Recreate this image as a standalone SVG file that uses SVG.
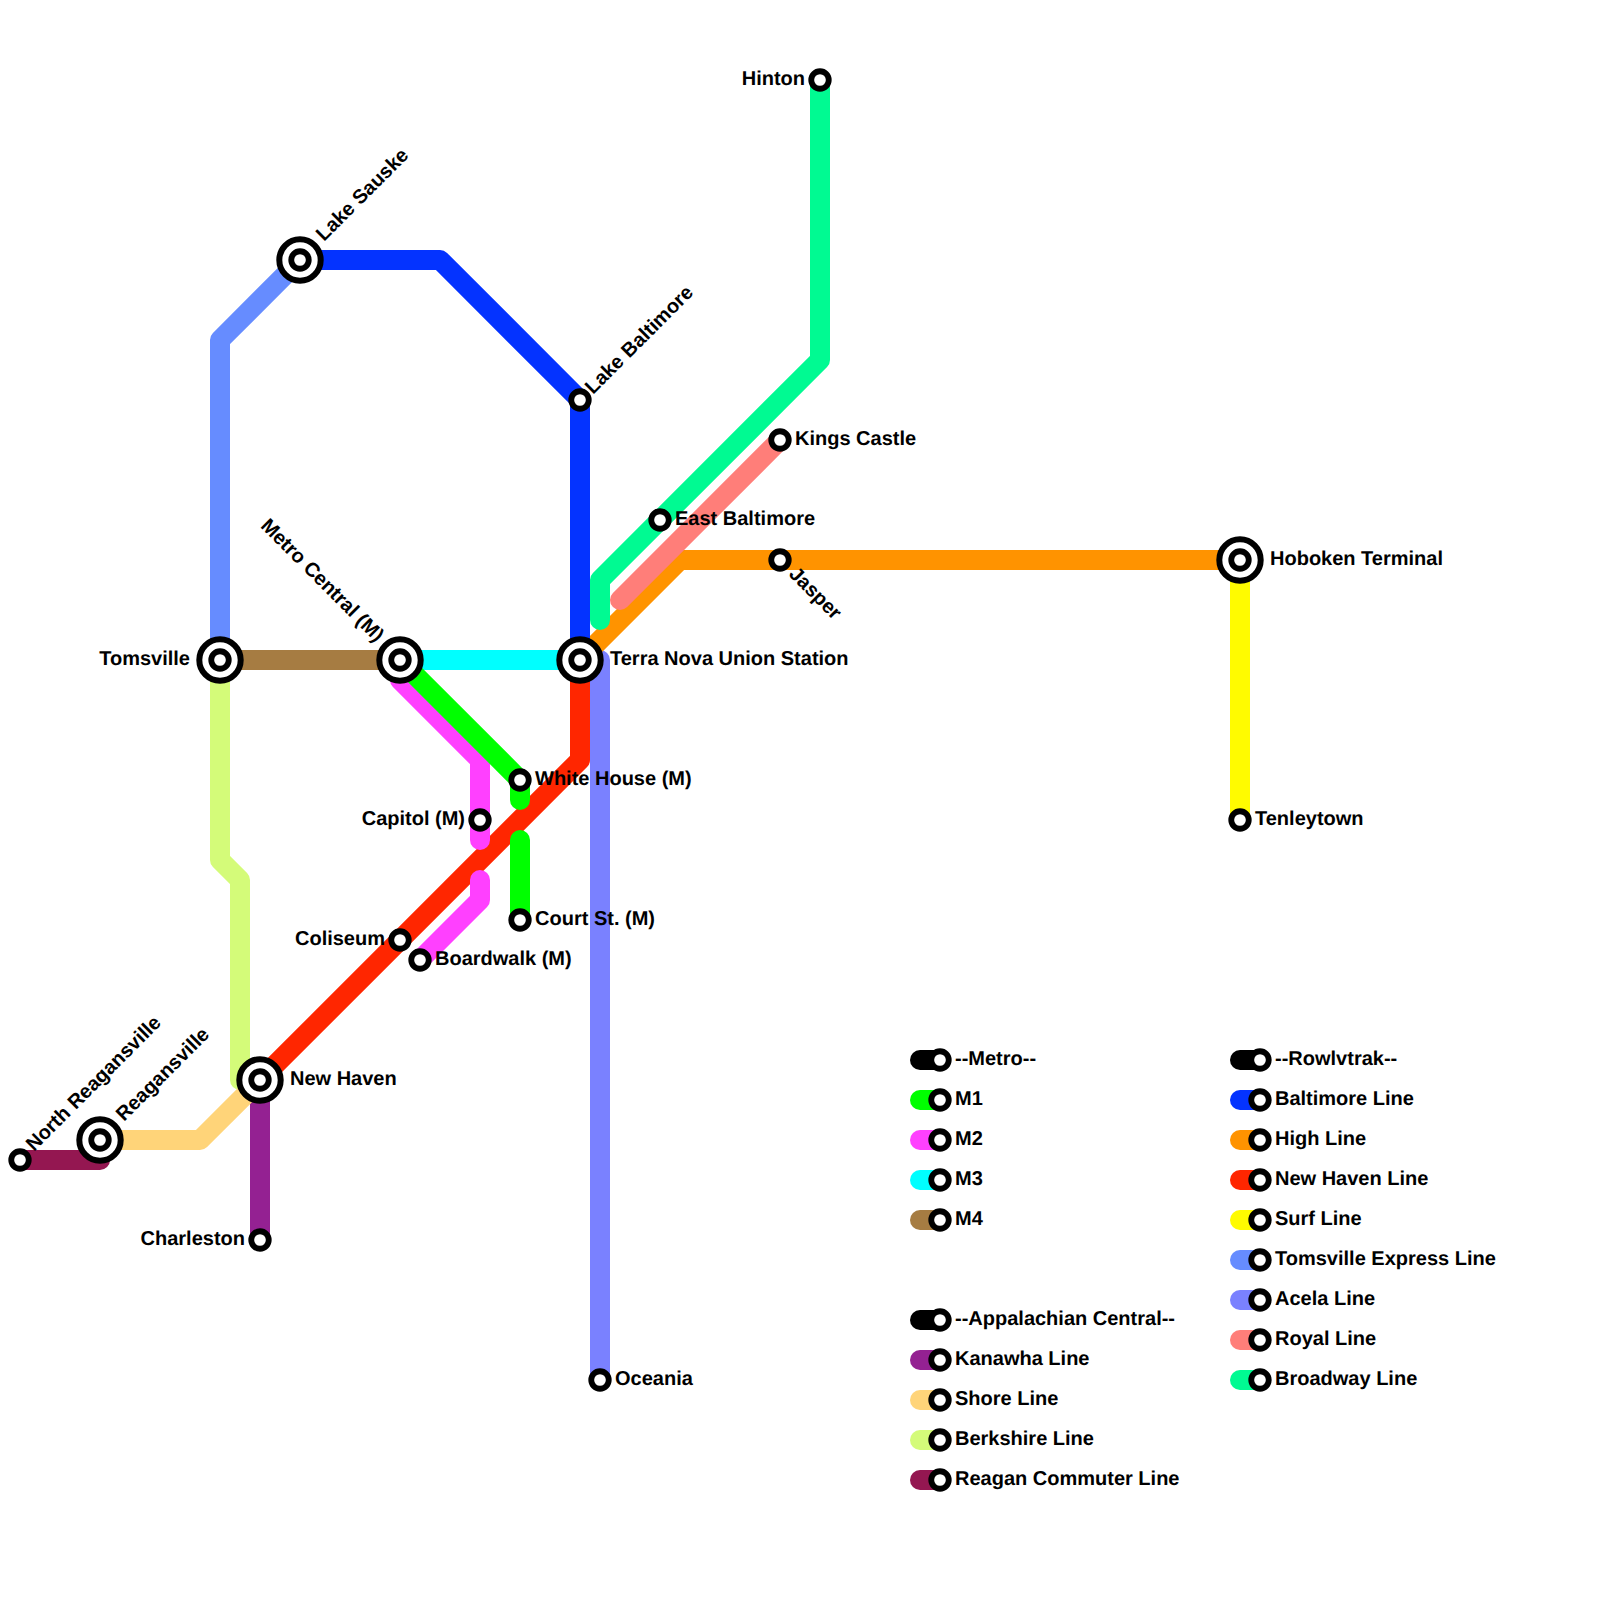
<svg xmlns="http://www.w3.org/2000/svg" width="1600" height="1600" viewBox="0 0 1600 1600">
<defs>
<style>
.l{fill:none;stroke-width:20;stroke-linecap:round;stroke-linejoin:round}
.s{fill:#fff;stroke:#000;stroke-width:5.83}
.o{fill:#fff;stroke:#000;stroke-width:6}
text{font-family:"Liberation Sans",Arial,sans-serif;font-weight:bold;font-size:20px;fill:#000;text-rendering:geometricPrecision}
.e{text-anchor:end}
</style>
<g id="st"><circle class="s" cx="0" cy="0" r="8.75"/></g>
<g id="ic"><circle class="o" cx="0" cy="0" r="20.7"/><circle class="s" cx="0" cy="0" r="8.75"/></g>
</defs>
<rect width="1600" height="1600" fill="#fff"/>
<g id="connectors">
<path class="l" stroke="#7A81FF" d="M600 1380V660H580"/>
<path class="l" stroke="#FF2600" d="M580 660V760L260 1080"/>
<path class="l" stroke="#FF9300" d="M580 660L680 560H1240"/>
<path class="l" stroke="#FF7E79" d="M620 600L780 440"/>
<path class="l" stroke="#00FA92" d="M820 80V360L600 580V620"/>
<path class="l" stroke="#0433FF" d="M300 260H440L580 400V660"/>
<path class="l" stroke="#668CFF" d="M300 260L220 340V660"/>
<path class="l" stroke="#FFFB00" d="M1240 560V820"/>
<path class="l" stroke="#D4FB79" d="M220 660V860L240 880V1080H260"/>
<path class="l" stroke="#942192" d="M260 1080V1240"/>
<path class="l" stroke="#FFD479" d="M100 1140H200L260 1080"/>
<path class="l" stroke="#941751" d="M20 1160H100V1140"/>
<path class="l" stroke="#A67C42" d="M220 660H400"/>
<path class="l" stroke="#00FFFF" d="M400 660H580"/>
<path class="l" stroke="#FF40FF" d="M400 660V680L480 760V840M480 880V900L420 960"/>
<path class="l" stroke="#00FF00" d="M400 660L520 780V800M520 840V920"/>
</g>
<g id="n-terra"><use href="#ic" x="580" y="660"/><text x="610" y="665">Terra Nova Union Station</text></g>
<g id="n-metro"><use href="#ic" x="400" y="660"/><text class="e" transform="translate(376 643) rotate(45)">Metro Central (M)</text></g>
<g id="n-toms"><use href="#ic" x="220" y="660"/><text class="e" x="190" y="665">Tomsville</text></g>
<g id="n-sauske"><use href="#ic" x="300" y="260"/><text transform="translate(324 242) rotate(-45)">Lake Sauske</text></g>
<g id="n-lakebalt"><use href="#st" x="580" y="400"/><text transform="translate(593 395) rotate(-45)">Lake Baltimore</text></g>
<g id="n-eastbalt"><use href="#st" x="660" y="520"/><text x="675" y="525">East Baltimore</text></g>
<g id="n-kings"><use href="#st" x="780" y="440"/><text x="795" y="445">Kings Castle</text></g>
<g id="n-jasper"><use href="#st" x="780" y="560"/><text transform="translate(788 575) rotate(45)">Jasper</text></g>
<g id="n-hoboken"><use href="#ic" x="1240" y="560"/><text x="1270" y="565">Hoboken Terminal</text></g>
<g id="n-tenley"><use href="#st" x="1240" y="820"/><text x="1255" y="825">Tenleytown</text></g>
<g id="n-hinton"><use href="#st" x="820" y="80"/><text class="e" x="805" y="85">Hinton</text></g>
<g id="n-oceania"><use href="#st" x="600" y="1380"/><text x="615" y="1385">Oceania</text></g>
<g id="n-white"><use href="#st" x="520" y="780"/><text x="535" y="785">White House (M)</text></g>
<g id="n-capitol"><use href="#st" x="480" y="820"/><text class="e" x="465" y="825">Capitol (M)</text></g>
<g id="n-court"><use href="#st" x="520" y="920"/><text x="535" y="925">Court St. (M)</text></g>
<g id="n-board"><use href="#st" x="420" y="960"/><text x="435" y="965">Boardwalk (M)</text></g>
<g id="n-coliseum"><use href="#st" x="400" y="940"/><text class="e" x="385" y="945">Coliseum</text></g>
<g id="n-newhaven"><use href="#ic" x="260" y="1080"/><text x="290" y="1085">New Haven</text></g>
<g id="n-charleston"><use href="#st" x="260" y="1240"/><text class="e" x="245" y="1245">Charleston</text></g>
<g id="n-reagan"><use href="#ic" x="100" y="1140"/><text transform="translate(124 1122) rotate(-45)">Reagansville</text></g>
<g id="n-north"><use href="#st" x="20" y="1160"/><text transform="translate(34 1152) rotate(-45)">North Reagansville</text></g>
<g id="legend">
<g id="lg1"><path class="l" stroke="#000" d="M920 1060H940"/><use href="#st" x="940" y="1060"/><text x="955" y="1065">--Metro--</text></g>
<g id="lg2"><path class="l" stroke="#00FF00" d="M920 1100H940"/><use href="#st" x="940" y="1100"/><text x="955" y="1105">M1</text></g>
<g id="lg3"><path class="l" stroke="#FF40FF" d="M920 1140H940"/><use href="#st" x="940" y="1140"/><text x="955" y="1145">M2</text></g>
<g id="lg4"><path class="l" stroke="#00FFFF" d="M920 1180H940"/><use href="#st" x="940" y="1180"/><text x="955" y="1185">M3</text></g>
<g id="lg5"><path class="l" stroke="#A67C42" d="M920 1220H940"/><use href="#st" x="940" y="1220"/><text x="955" y="1225">M4</text></g>
<g id="lg6"><path class="l" stroke="#000" d="M920 1320H940"/><use href="#st" x="940" y="1320"/><text x="955" y="1325">--Appalachian Central--</text></g>
<g id="lg7"><path class="l" stroke="#942192" d="M920 1360H940"/><use href="#st" x="940" y="1360"/><text x="955" y="1365">Kanawha Line</text></g>
<g id="lg8"><path class="l" stroke="#FFD479" d="M920 1400H940"/><use href="#st" x="940" y="1400"/><text x="955" y="1405">Shore Line</text></g>
<g id="lg9"><path class="l" stroke="#D4FB79" d="M920 1440H940"/><use href="#st" x="940" y="1440"/><text x="955" y="1445">Berkshire Line</text></g>
<g id="lg10"><path class="l" stroke="#941751" d="M920 1480H940"/><use href="#st" x="940" y="1480"/><text x="955" y="1485">Reagan Commuter Line</text></g>
<g id="lg11"><path class="l" stroke="#000" d="M1240 1060H1260"/><use href="#st" x="1260" y="1060"/><text x="1275" y="1065">--Rowlvtrak--</text></g>
<g id="lg12"><path class="l" stroke="#0433FF" d="M1240 1100H1260"/><use href="#st" x="1260" y="1100"/><text x="1275" y="1105">Baltimore Line</text></g>
<g id="lg13"><path class="l" stroke="#FF9300" d="M1240 1140H1260"/><use href="#st" x="1260" y="1140"/><text x="1275" y="1145">High Line</text></g>
<g id="lg14"><path class="l" stroke="#FF2600" d="M1240 1180H1260"/><use href="#st" x="1260" y="1180"/><text x="1275" y="1185">New Haven Line</text></g>
<g id="lg15"><path class="l" stroke="#FFFB00" d="M1240 1220H1260"/><use href="#st" x="1260" y="1220"/><text x="1275" y="1225">Surf Line</text></g>
<g id="lg16"><path class="l" stroke="#668CFF" d="M1240 1260H1260"/><use href="#st" x="1260" y="1260"/><text x="1275" y="1265">Tomsville Express Line</text></g>
<g id="lg17"><path class="l" stroke="#7A81FF" d="M1240 1300H1260"/><use href="#st" x="1260" y="1300"/><text x="1275" y="1305">Acela Line</text></g>
<g id="lg18"><path class="l" stroke="#FF7E79" d="M1240 1340H1260"/><use href="#st" x="1260" y="1340"/><text x="1275" y="1345">Royal Line</text></g>
<g id="lg19"><path class="l" stroke="#00FA92" d="M1240 1380H1260"/><use href="#st" x="1260" y="1380"/><text x="1275" y="1385">Broadway Line</text></g>
</g>
</svg>
